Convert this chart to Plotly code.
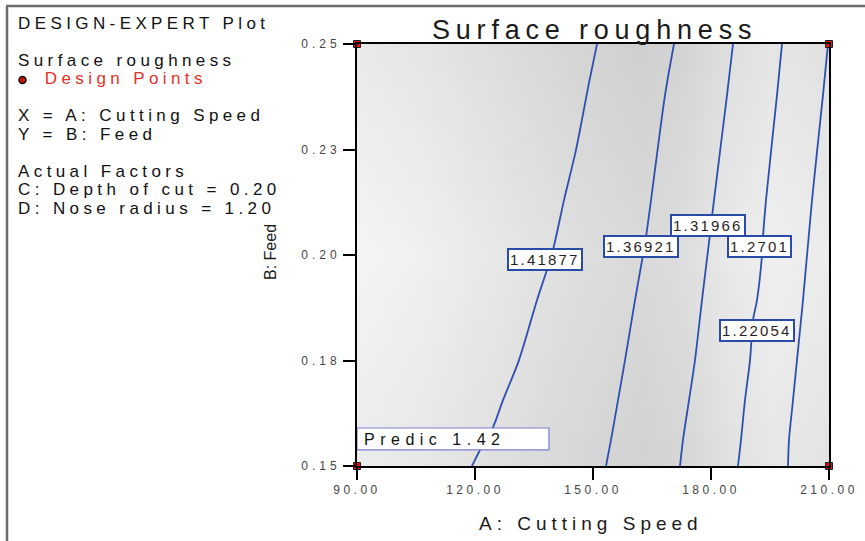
import plotly.graph_objects as go

# ---- data -------------------------------------------------------------
speed_ticks = [90, 120, 150, 180, 210]
speed_tick_text = ["90.00", "120.00", "150.00", "180.00", "210.00"]
feed_ticks = [0.15, 0.175, 0.20, 0.225, 0.25]
feed_tick_text = ["0.15", "0.18", "0.20", "0.23", "0.25"]

levels = [1.41877, 1.36921, 1.31966, 1.2701, 1.22054]

# contour traces: cutting speed / feed pairs along each iso-roughness line
c1_speed = [151.02, 148.98, 145.68, 142.63, 139.83, 138.31, 135.76, 131.19, 127.12, 124.58, 121.27, 119.24]
c1_feed = [0.25, 0.2408, 0.2249, 0.2130, 0.2012, 0.1965, 0.1893, 0.1751, 0.1656, 0.1592, 0.1538, 0.15]
c2_speed = [170.59, 168.31, 164.75, 163.48, 162.71, 160.68, 158.14, 156.36, 154.58, 153.31]
c2_feed = [0.25, 0.2379, 0.2130, 0.2043, 0.2000, 0.1893, 0.1751, 0.1656, 0.1562, 0.15]
c3_speed = [185.59, 184.07, 180.76, 179.75, 177.71, 175.93, 174.41, 172.88, 172.12]
c3_feed = [0.25, 0.2379, 0.2130, 0.2050, 0.1893, 0.1751, 0.1656, 0.1562, 0.15]
c4_speed = [198.05, 196.78, 193.98, 193.22, 192.97, 191.69, 190.68, 189.92, 188.64, 187.63, 186.86]
c4_feed = [0.25, 0.2379, 0.2130, 0.2043, 0.2000, 0.1893, 0.1846, 0.1751, 0.1656, 0.1562, 0.15]
c5_speed = [209.75, 208.47, 205.68, 203.39, 201.86, 200.85, 199.83, 199.58]
c5_feed = [0.25, 0.2379, 0.2130, 0.1893, 0.1751, 0.1656, 0.1562, 0.15]

contour_speed = [c1_speed, c2_speed, c3_speed, c4_speed, c5_speed]
contour_feed = [c1_feed, c2_feed, c3_feed, c4_feed, c5_feed]

# where each level's value box sits
label_speed = [137.8, 162.3, 179.2, 192.3, 191.7]
label_feed = [0.1989, 0.2021, 0.2071, 0.2021, 0.1820]

# design points (corners of the factor space)
design_speed = [90, 210, 90, 210]
design_feed = [0.25, 0.25, 0.15, 0.15]

predicted_value = 1.42

# side information block (None = empty spacer line)
info_lines = [
    "DESIGN-EXPERT Plot", None,
    "Surface roughness", "Design Points", None,
    "X = A: Cutting Speed", "Y = B: Feed", None,
    "Actual Factors", "C: Depth of cut = 0.20", "D: Nose radius = 1.20",
]

# ---- helpers ----------------------------------------------------------
PLOT_L, PLOT_R, PLOT_T, PLOT_B = 357, 829, 44, 466
W, H = 865, 541
FONT = "Liberation Sans, Arial, sans-serif"


def px(x):
    return (x - PLOT_L) / (PLOT_R - PLOT_L)


def py(y):
    return (PLOT_B - y) / (PLOT_B - PLOT_T)


def spaced(text, gap, extra=""):
    return f'<span style="letter-spacing:{gap}px{extra}">{text}</span>'


fig = go.Figure()

# shaded response background
fig.add_trace(go.Scatter(
    x=[90, 210, 210, 90, 90], y=[0.15, 0.15, 0.25, 0.25, 0.15],
    mode="lines", line=dict(width=0), fill="toself",
    fillgradient=dict(type="horizontal", colorscale=[
        [0.0, "#f3f4f4"], [0.15, "#efefef"], [0.30, "#e7e7e7"],
        [0.45, "#dfdfdf"], [0.60, "#d9d9d9"], [0.70, "#dedede"],
        [0.78, "#e8e8e8"], [0.88, "#efefef"], [1.0, "#ebebeb"]]),
    hoverinfo="skip", showlegend=False))
fig.add_trace(go.Scatter(
    x=[90, 210, 210, 90, 90], y=[0.15, 0.15, 0.25, 0.25, 0.15],
    mode="lines", line=dict(width=0), fill="toself",
    fillgradient=dict(type="vertical", colorscale=[
        [0.0, "rgba(0,0,0,0.035)"], [0.5, "rgba(0,0,0,0)"], [1.0, "rgba(0,0,0,0.045)"]]),
    hoverinfo="skip", showlegend=False))

# iso-roughness lines
for sp, fd, lv in zip(contour_speed, contour_feed, levels):
    fig.add_trace(go.Scatter(
        x=sp, y=fd, mode="lines", name=f"{lv}",
        line=dict(color="#2f4fb0", width=1.8, shape="spline", smoothing=0.8),
        showlegend=False))

# design points
fig.add_trace(go.Scatter(
    x=design_speed, y=design_feed, mode="markers",
    marker=dict(symbol="square", size=7, color="#e01010",
                line=dict(color="#202020", width=1)),
    cliponaxis=False, showlegend=False))

annotations = []
for lv, sx, fy in zip(levels, label_speed, label_feed):
    annotations.append(dict(
        x=sx, y=fy, xref="x", yref="y", text=spaced(f"{lv:g}", 2.2),
        showarrow=False, font=dict(family=FONT, size=15, color="#2a1f1f"),
        bgcolor="white", bordercolor="#2a4aa8", borderwidth=2, borderpad=1,
        xanchor="center", yanchor="middle"))

# prediction flag box
fig.add_shape(type="rect", xref="x", yref="y", x0=90, x1=138.8, y0=0.1538, y1=0.1590,
              line=dict(color="#7c7cd4", width=1.2), fillcolor="white", layer="above")
annotations.append(dict(
    x=px(362), y=py(439.5), xref="paper", yref="paper",
    text=spaced(f"Predic {predicted_value:.2f}", 5.5), showarrow=False,
    font=dict(family=FONT, size=16, color="#111111"),
    xanchor="left", yanchor="middle"))

# side information block: one annotation, tight line pitch, larger glyphs
rows = []
for line in info_lines:
    if line is None:
        rows.append("")
    elif line == "Design Points":
        rows.append(spaced("&nbsp;&nbsp;&nbsp;", 4.2, ";font-size:17px")
                    + spaced(line, 4.4, ";font-size:17px;color:#e8302a"))
    else:
        rows.append(spaced(line, 4.4, ";font-size:17px"))
annotations.append(dict(
    x=px(16), y=py(116), xref="paper", yref="paper", text="<br>".join(rows),
    showarrow=False, align="left",
    font=dict(family=FONT, size=14.2, color="#111111"),
    xanchor="left", yanchor="middle"))

# axis titles
annotations.append(dict(
    x=px(591), y=py(523), xref="paper", yref="paper",
    text=spaced("A: Cutting Speed", 5), showarrow=False,
    font=dict(family=FONT, size=19, color="#1a1a1a"),
    xanchor="center", yanchor="middle"))
annotations.append(dict(
    x=px(270), y=py(252), xref="paper", yref="paper", text="B: Feed",
    textangle=-90, showarrow=False,
    font=dict(family=FONT, size=16, color="#1a1a1a"),
    xanchor="center", yanchor="middle"))

# chart title
annotations.append(dict(
    x=px(594), y=py(30), xref="paper", yref="paper",
    text=spaced("Surface roughness", 5.8), showarrow=False,
    font=dict(family=FONT, size=27, color="#1a1a1a"),
    xanchor="center", yanchor="middle"))

# outer frame edges and legend dot
shapes = [
    dict(type="line", xref="paper", yref="paper", x0=px(6), x1=px(W), y0=py(6), y1=py(6),
         line=dict(color="#6b6b6b", width=2.5)),
    dict(type="line", xref="paper", yref="paper", x0=px(7), x1=px(7), y0=py(6), y1=py(H),
         line=dict(color="#6b6b6b", width=2.5)),
    dict(type="circle", xref="paper", yref="paper", x0=px(19), x1=px(26), y0=py(76.5), y1=py(83.5),
         fillcolor="#d01010", line=dict(color="#111111", width=1.5)),
]
for s in shapes:
    fig.add_shape(**s)

axis_common = dict(
    showgrid=False, zeroline=False, showline=True, linecolor="black", linewidth=2,
    mirror=True, ticks="outside", ticklen=12, tickwidth=2, tickcolor="black",
    automargin=False,
    tickfont=dict(family=FONT, size=12, color="#444444"))

fig.update_layout(
    width=W, height=H,
    margin=dict(l=PLOT_L, r=W - PLOT_R, t=PLOT_T, b=H - PLOT_B, pad=0, autoexpand=False),
    paper_bgcolor="white", plot_bgcolor="white",
    xaxis=dict(range=[90, 210], tickvals=speed_ticks,
               ticktext=[spaced(t, 3.5) for t in speed_tick_text], **axis_common),
    yaxis=dict(range=[0.15, 0.25], tickvals=feed_ticks,
               ticktext=[spaced(t, 4) for t in feed_tick_text], **axis_common),
    annotations=annotations,
    showlegend=False,
)

fig.write_html("out.html")
